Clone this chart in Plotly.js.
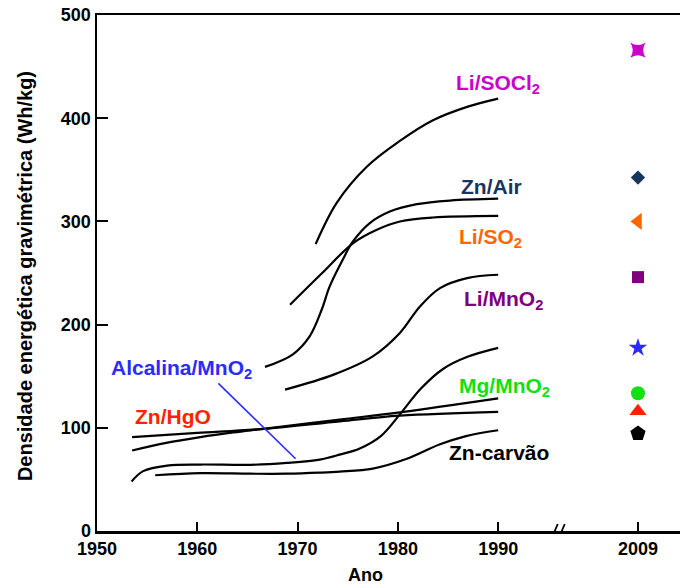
<!DOCTYPE html>
<html>
<head>
<meta charset="utf-8">
<script src="https://cdn.plot.ly/plotly-3.0.1.min.js"></script>
<style>html,body{margin:0;padding:0;background:#fff;}</style>
</head>
<body>
<div id="chart" style="width:680px;height:588px;"></div>
<script>
// ---- Data ----
const liSOCl2Years = [1971.8, 1973.9, 1976.9, 1980.2, 1983.5, 1986.9, 1990];
const liSOCl2Vals  = [278, 318, 353, 378, 398, 411, 419];

const znAirYears = [1966.75, 1969.5, 1971.2, 1972.4, 1973.2, 1974.5, 1975.5, 1977.2, 1979.2, 1981.9, 1985.2, 1990];
const znAirVals  = [159, 171, 188.6, 214.4, 237, 262.8, 280.3, 298.4, 309.6, 316.7, 320.2, 322];

const liSO2Years = [1969.25, 1972.4, 1975.55, 1977.9, 1980.2, 1983.5, 1990];
const liSO2Vals  = [219.3, 249.5, 279, 291.9, 299.9, 303.8, 305.4];

const liMnO2Years = [1968.75, 1973.6, 1977.5, 1980.2, 1982.2, 1984.2, 1986.9, 1990];
const liMnO2Vals  = [137, 151.5, 169.2, 191.9, 217.6, 235.4, 245.1, 248.3];

const alcalinaYears = [1953.45, 1954.6, 1957.0, 1960.3, 1965.3, 1968.9, 1972.2, 1974.2, 1976.2, 1978.3, 1980.2, 1982.3, 1984.5, 1987.0, 1990];
const alcalinaVals  = [48, 58, 63.4, 64.4, 64.1, 66, 69.2, 74, 80, 92, 113, 138, 157, 169, 177.5];

const znCarvaoYears = [1955.8, 1960.3, 1965.3, 1968.9, 1972.2, 1974.2, 1977.5, 1980.9, 1984.2, 1986.8, 1990];
const znCarvaoVals  = [54, 56, 55.5, 55.5, 56.5, 57.5, 60.5, 70, 84, 92, 97.6];

const znHgOYears = [1953.5, 1960, 1966.6, 1974.2, 1980.2, 1990];
const znHgOVals  = [91, 95, 99, 106.3, 111.8, 115.5];

const mgMnO2Years = [1953.5, 1956.9, 1960.3, 1963.6, 1966.6, 1974.2, 1980.2, 1990];
const mgMnO2Vals  = [78, 85.4, 91, 95.5, 99, 108, 115, 128.5];

// 2009 values (markers)
const systems2009 = ["Li/SOCl2", "Zn/Air", "Li/SO2", "Li/MnO2", "Alcalina/MnO2", "Mg/MnO2", "Zn/HgO", "Zn-carvão"];
const values2009  = [466, 342.5, 300, 246, 177.5, 133.5, 116, 94.5];
const year2009 = 2009;

// tick labels
const xTickYears = [1950, 1960, 1970, 1980, 1990, 2009];
const yTickVals = [0, 100, 200, 300, 400, 500];

// ---- Broken axis mapping: after 1990 the axis is compressed ----
function axisPos(year) {
  return year <= 1990 ? year : 1990 + (year - 1990) * (13.94 / 19);
}

const FONT = "Arial, 'Liberation Sans', sans-serif";
const colors = {
  "Li/SOCl2": "#CC00CC",
  "Zn/Air": "#17365D",
  "Li/SO2": "#FF6600",
  "Li/MnO2": "#7F007F",
  "Alcalina/MnO2": "#2B2BFF",
  "Mg/MnO2": "#11E011",
  "Zn/HgO": "#FF2200",
  "Zn-carvão": "#000000"
};
const symbols = {
  "Li/SOCl2": ["star-square", 14],
  "Zn/Air": ["diamond", 11],
  "Li/SO2": ["triangle-left", 15],
  "Li/MnO2": ["square", 12],
  "Alcalina/MnO2": ["star", 14],
  "Mg/MnO2": ["circle", 14],
  "Zn/HgO": ["triangle-up", 15],
  "Zn-carvão": ["pentagon", 16]
};

const curves = [
  [liSOCl2Years, liSOCl2Vals, "Li/SOCl2"],
  [znAirYears, znAirVals, "Zn/Air"],
  [liSO2Years, liSO2Vals, "Li/SO2"],
  [liMnO2Years, liMnO2Vals, "Li/MnO2"],
  [alcalinaYears, alcalinaVals, "Alcalina/MnO2"],
  [znCarvaoYears, znCarvaoVals, "Zn-carvão"],
  [znHgOYears, znHgOVals, "Zn/HgO"],
  [mgMnO2Years, mgMnO2Vals, "Mg/MnO2"]
];

const traces = curves.map(c => ({
  x: c[0].map(axisPos), y: c[1], name: c[2], type: "scatter", mode: "lines",
  line: {color: "#000", width: 2.2, shape: "spline", smoothing: 1},
  hoverinfo: "skip", showlegend: false
}));

systems2009.forEach((s, i) => {
  traces.push({
    x: [axisPos(year2009)], y: [values2009[i]], name: s, type: "scatter", mode: "markers",
    marker: {color: colors[s], symbol: symbols[s][0], size: symbols[s][1], line: {width: 0}},
    showlegend: false
  });
});

function lab(text, x, y, color) {
  return {text: text, x: x, y: y, xref: "x", yref: "y", showarrow: false,
    xanchor: "center", yanchor: "middle",
    font: {family: FONT, size: 21, color: color, weight: "bold"}};
}

const annotations = [
  lab("Li/SOCl<sub>2</sub>", 1990.0, 433, colors["Li/SOCl2"]),
  lab("Zn/Air", 1989.3, 334, colors["Zn/Air"]),
  lab("Li/SO<sub>2</sub>", 1989.2, 284, colors["Li/SO2"]),
  lab("Li/MnO<sub>2</sub>", 1990.5, 224, colors["Li/MnO2"]),
  lab("Mg/MnO<sub>2</sub>", 1990.6, 140, colors["Mg/MnO2"]),
  lab("Zn-carvão", 1990.1, 76, colors["Zn-carvão"]),
  lab("Alcalina/MnO<sub>2</sub>", 1958.4, 157, colors["Alcalina/MnO2"]),
  lab("Zn/HgO", 1957.6, 111, colors["Zn/HgO"]),
  {text: "Densidade energética gravimétrica (Wh/kg)", xref: "paper", yref: "paper",
   x: -0.1235, y: 0.494, textangle: -90, showarrow: false, xanchor: "center", yanchor: "middle",
   font: {family: FONT, size: 20, color: "#000", weight: "bold"}},
  {text: "Ano", xref: "paper", yref: "paper", x: 0.46, y: -0.085, showarrow: false,
   xanchor: "center", yanchor: "middle",
   font: {family: FONT, size: 18, color: "#000", weight: "bold"}}
];

// axis break placed between 1990 and 2009 on the compressed part of the axis
const breakX = axisPos(1998.1);
const shapes = [
  // pointer line for Alcalina/MnO2
  {type: "line", xref: "x", yref: "y", x0: 1962.1, y0: 143, x1: 1969.8, y1: 70,
   line: {color: "#2B2BFF", width: 1.6}},
  // axis break marks
  {type: "line", xref: "x", yref: "y", xsizemode: "pixel", ysizemode: "pixel",
   xanchor: breakX, yanchor: 0, x0: -6, x1: 0, y0: -7, y1: 7, line: {color: "#000", width: 1.8}},
  {type: "line", xref: "x", yref: "y", xsizemode: "pixel", ysizemode: "pixel",
   xanchor: breakX, yanchor: 0, x0: 1, x1: 7, y0: -7, y1: 7, line: {color: "#000", width: 1.8}}
];

const layout = {
  width: 680, height: 588,
  margin: {l: 97, r: 0, t: 15, b: 57, pad: 0},
  paper_bgcolor: "#fff", plot_bgcolor: "#fff",
  showlegend: false,
  xaxis: {
    range: [1950, 2008.13], tickmode: "array",
    tickvals: xTickYears.map(axisPos), ticktext: xTickYears.map(String),
    ticks: "inside", ticklen: 9, tickwidth: 2, tickcolor: "#000",
    showline: true, linewidth: 2.5, linecolor: "#000", mirror: true,
    showgrid: false, zeroline: false,
    tickfont: {family: FONT, size: 18, color: "#000", weight: "bold"},
    fixedrange: true
  },
  yaxis: {
    range: [0, 500], tickmode: "array", tickvals: yTickVals,
    ticks: "inside", ticklen: 11, tickwidth: 2, tickcolor: "#000",
    showline: true, linewidth: 2.5, linecolor: "#000", mirror: false,
    showgrid: false, zeroline: false,
    tickfont: {family: FONT, size: 18, color: "#000", weight: "bold"},
    fixedrange: true
  },
  annotations: annotations,
  shapes: shapes
};

Plotly.newPlot("chart", traces, layout, {staticPlot: true, displayModeBar: false});
</script>
</body>
</html>
